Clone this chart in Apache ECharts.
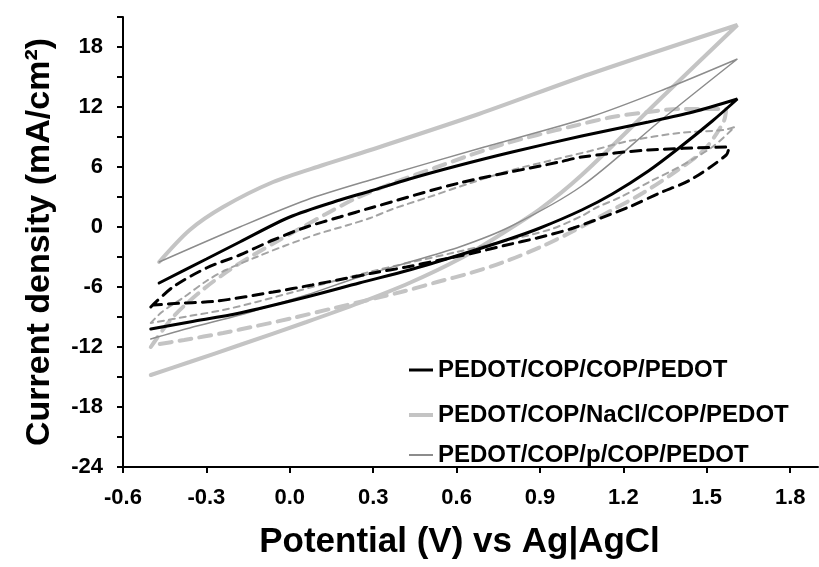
<!DOCTYPE html>
<html>
<head>
<meta charset="utf-8">
<script src="https://cdn.jsdelivr.net/npm/echarts@6/dist/echarts.min.js"></script>
<style>
  html, body { margin: 0; padding: 0; background: #fff; }
  #cv-chart { width: 819px; height: 567px; }
</style>
</head>
<body>
<div id="cv-chart"></div>
<script>
// legend names
const nameCop = 'PEDOT/COP/COP/PEDOT'
const nameNacl = 'PEDOT/COP/NaCl/COP/PEDOT'
const nameP = 'PEDOT/COP/p/COP/PEDOT'

// solid loops [V, mA/cm2]
const copSolid = [
  [-0.47, -5.6], [-0.3, -3.2], [-0.18, -1.5], [0, 1.0], [0.18, 2.7], [0.29, 3.6], [0.43, 4.8], [0.6, 6.1],
  [0.8, 7.5], [1.05, 9.1], [1.29, 10.5], [1.45, 11.5], [1.61, 12.8],
  [1.52, 10.6], [1.4, 7.9], [1.29, 5.6], [1.16, 3.3], [1.05, 1.7], [0.9, -0.1], [0.79, -1.2], [0.61, -2.8],
  [0.43, -4.3], [0.25, -5.6], [0.06, -7], [-0.18, -8.6], [-0.36, -9.5], [-0.5, -10.2]
]
const naclSolid = [
  [-0.47, -3.5], [-0.36, -0.3], [-0.24, 2], [-0.06, 4.5], [0.12, 6.2], [0.29, 7.7], [0.68, 11.3],
  [1.08, 15.3], [1.61, 20.2],
  [1.34, 13], [1.05, 5.2], [0.9, 1.8], [0.75, -0.9], [0.61, -3.2], [0.43, -5.6], [0.25, -7.6],
  [0.06, -9.5], [-0.18, -11.8], [-0.36, -13.5], [-0.5, -14.8]
]
const pSolid = [
  [-0.47, -3.5], [-0.18, 0], [0.06, 2.7], [0.29, 4.7], [0.7, 8], [1.08, 11], [1.35, 13.8], [1.61, 16.8],
  [1.34, 10.8], [1.05, 4.1], [0.79, 0], [0.61, -2], [0.43, -3.5], [0.25, -5], [0.06, -6.8],
  [-0.06, -7.8], [-0.18, -8.8], [-0.36, -10.1], [-0.5, -11.2]
]

// dashed loops
const copDash = [
  [-0.5, -8], [-0.42, -6], [-0.3, -4.1], [-0.18, -2.8], [-0.06, -1.3], [0.06, 0], [0.18, 1], [0.29, 1.9],
  [0.61, 4.4], [0.97, 6.5], [1.05, 7], [1.29, 7.7], [1.58, 8],
  [1.57, 7.2], [1.44, 4.7], [1.33, 3.4], [1.22, 2], [1.02, -0.1], [0.89, -1.1], [0.78, -1.8], [0.66, -2.6],
  [0.54, -3.3], [0.42, -4], [0.3, -4.6], [0.21, -5.1], [0.08, -5.8], [-0.06, -6.5], [-0.26, -7.4],
  [-0.38, -7.6], [-0.49, -7.8]
]
const naclDash = [
  [-0.5, -12], [-0.42, -9], [-0.31, -6.2], [-0.19, -3.8], [-0.05, -1.5], [0.04, -0.1], [0.13, 1.3],
  [0.24, 2.9], [0.39, 4.6], [0.52, 5.9], [0.64, 7.1], [0.77, 8.3], [0.89, 9.2], [1.02, 10.1], [1.16, 11],
  [1.29, 11.5], [1.4, 11.8], [1.57, 11.8],
  [1.56, 10.5], [1.49, 7.7], [1.38, 5.4], [1.27, 3.4], [1.16, 1.7], [1.02, -0.4], [0.91, -1.9],
  [0.78, -3.4], [0.65, -4.6], [0.53, -5.5], [0.4, -6.5], [0.16, -8.1], [0.01, -9.1], [-0.12, -9.9],
  [-0.24, -10.6], [-0.38, -11.3], [-0.49, -11.8]
]
const pDash = [
  [-0.5, -9.6], [-0.46, -8.5], [-0.38, -7], [-0.3, -5.4], [-0.23, -4.3], [-0.12, -3], [-0.02, -1.9],
  [0.1, -0.7], [0.21, 0.2], [0.29, 0.9], [0.37, 1.8], [0.49, 2.9], [0.65, 4.4], [0.8, 5.7], [0.93, 6.6],
  [1.08, 7.6], [1.22, 8.6], [1.4, 9.4], [1.56, 9.7], [1.6, 10],
  [1.52, 8], [1.4, 6], [1.3, 4.6], [1.19, 3], [1.1, 1.9], [1.05, 1.1], [0.93, -0.3], [0.6, -2.5],
  [0.3, -4.4], [0, -6.6], [-0.12, -7.5], [-0.24, -8.3], [-0.36, -8.9], [-0.5, -9.6]
]

// axis ticks
const xMin = -0.6, xMax = 1.9, xStep = 0.3
const yMin = -24, yMax = 21, yStep = 3

const fontName = '"Liberation Sans", Arial, sans-serif'

function makeLine(name, data, color, width, dash) {
  return {
    name: name,
    type: 'line',
    data: data,
    showSymbol: false,
    symbol: 'none',
    smooth: 0.3,
    lineStyle: {
      color: color,
      width: width,
      type: dash || 'solid',
      cap: 'round'
    },
    itemStyle: { color: color }
  }
}

// one legend per row so each icon keeps its own thickness
function makeLegend(name, top, thick) {
  return {
    orient: 'vertical',
    left: 404,
    top: top,
    icon: 'rect',
    itemWidth: 24,
    itemHeight: thick,
    data: [name],
    selectedMode: false,
    textStyle: {
      color: '#000',
      fontSize: 24,
      fontWeight: 'bold',
      lineHeight: 24,
      fontFamily: fontName
    }
  }
}

let chart = echarts.init(document.getElementById('cv-chart'))

let options = {
  animation: false,
  backgroundColor: '#fff',
  textStyle: { fontFamily: fontName },
  grid: {
    left: 123,
    right: 1,
    top: 17,
    bottom: 100
  },
  legend: [
    makeLegend(nameCop, 353, 3),
    makeLegend(nameNacl, 398, 4),
    makeLegend(nameP, 438, 2)
  ],
  xAxis: {
    type: 'value',
    min: xMin,
    max: xMax,
    interval: xStep,
    name: 'Potential (V) vs Ag|AgCl',
    nameLocation: 'middle',
    nameGap: 58,
    nameTextStyle: {
      color: '#000', fontSize: 35, fontWeight: 'bold', fontFamily: fontName,
      padding: [0, 22, 0, 0]
    },
    axisLine: { onZero: false, lineStyle: { color: '#000', width: 2 } },
    axisTick: { length: 6, lineStyle: { color: '#000', width: 2 } },
    axisLabel: {
      color: '#000',
      fontSize: 22,
      fontWeight: 'bold',
      margin: 20,
      showMaxLabel: false,
      formatter: function (value) {
        return value.toFixed(1)
      }
    },
    splitLine: { show: false }
  },
  yAxis: {
    type: 'value',
    min: yMin,
    max: yMax,
    interval: yStep,
    name: 'Current density (mA/cm²)',
    nameLocation: 'middle',
    nameGap: 66,
    nameTextStyle: { color: '#000', fontSize: 34, fontWeight: 'bold', fontFamily: fontName },
    axisLine: { show: true, onZero: false, lineStyle: { color: '#000', width: 2 } },
    axisTick: { show: true, length: 6, lineStyle: { color: '#000', width: 2 } },
    axisLabel: {
      color: '#000',
      fontSize: 22,
      fontWeight: 'bold',
      margin: 20,
      formatter: function (value) {
        return value % 6 === 0 ? String(value) : ''
      }
    },
    splitLine: { show: false }
  },
  series: [
    makeLine(nameNacl + ' (2)', naclDash, '#c4c4c4', 4, [12, 8]),
    makeLine(nameNacl, naclSolid, '#c4c4c4', 4),
    makeLine(nameP + ' (2)', pDash, '#a3a3a3', 2, [6, 5]),
    makeLine(nameP, pSolid, '#8c8c8c', 1.5),
    makeLine(nameCop + ' (2)', copDash, '#000', 3, [10, 7]),
    makeLine(nameCop, copSolid, '#000', 3)
  ]
}

chart.setOption(options)
</script>
</body>
</html>
